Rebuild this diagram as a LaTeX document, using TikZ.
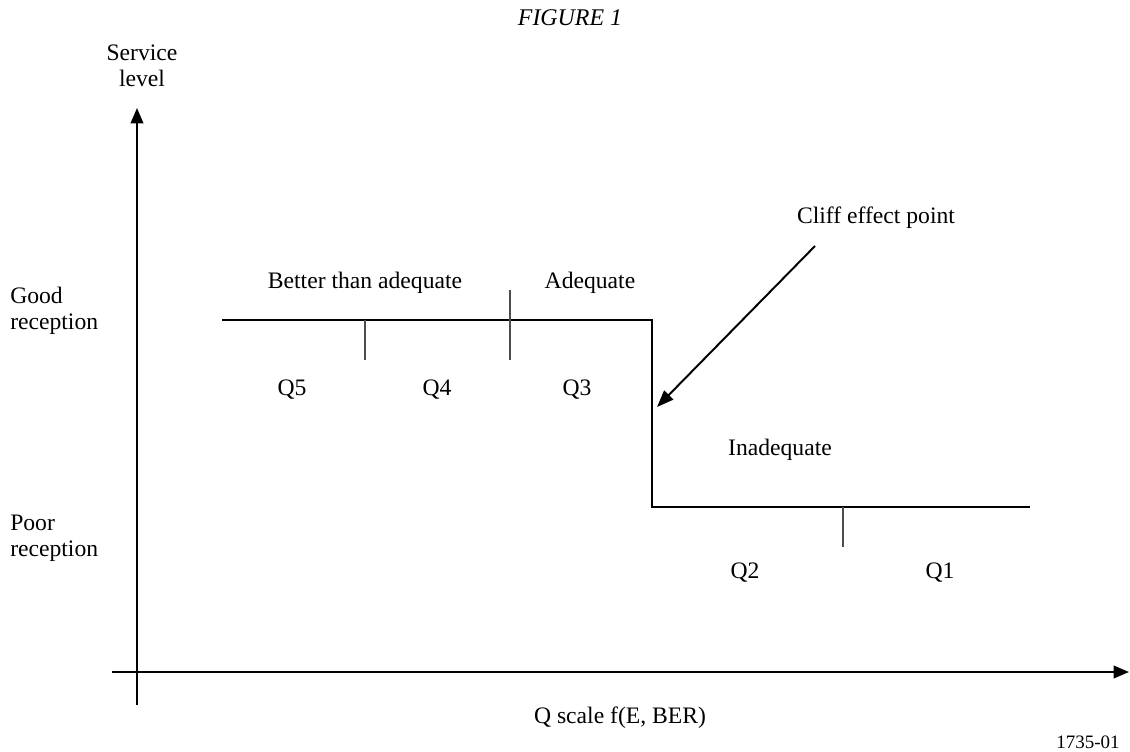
\documentclass[tikz,border=0pt]{standalone}
\usepackage{fontspec}
\setmainfont{Liberation Serif}
\usetikzlibrary{arrows.meta}

\tikzset{
  axis/.style={line width=1.4pt, -{Triangle[length=11pt,width=9pt]}},
  level/.style={line width=2pt},
  qtick/.style={line width=0.8pt, black!70},
  lbl/.style={inner sep=0pt, font=\fontsize{16.8}{18.5}\selectfont},
}

\begin{document}
\begin{tikzpicture}[x=0.025cm, y=-0.025cm]
  \useasboundingbox (0,0) rectangle (1130,751);

  % axes
  \coordinate (yfoot) at (137,705);
  \coordinate (ytip) at (137,108);
  \coordinate (xfoot) at (112,672);
  \coordinate (xtip) at (1129,672);
  \draw[axis] (yfoot) -- (ytip);
  \draw[axis] (xfoot) -- (xtip);

  % service level: good, then cliff down to poor
  \coordinate (good0) at (222,320);
  \coordinate (cliff) at (652,320);
  \coordinate (poor0) at (652,507);
  \coordinate (poor1) at (1030,507);
  \draw[level, line join=miter] (good0) -- (cliff) -- (poor0) -- (poor1);

  % Q band ticks
  \draw[qtick] (365,320) -- (365,360);
  \draw[qtick] (510,290) -- (510,360);
  \draw[qtick] (843,507) -- (843,547);

  % labels
  \node[inner sep=0pt, font=\fontsize{17}{20}\selectfont\itshape] (title) at (570,18) {FIGURE 1};
  \node[lbl, align=center] (ylab) at (142,66) {Service\\level};
  \node[lbl, align=left, anchor=west] (good) at (10,311) {Good\\reception};
  \node[lbl, align=left, anchor=west] (poor) at (10,538) {Poor\\reception};
  \node[lbl] (better) at (365,283) {Better than adequate};
  \node[lbl] (adeq) at (590,283) {Adequate};
  \node[lbl] (inadeq) at (780,450) {Inadequate};
  \foreach \q/\x/\y in {5/292/390, 4/437/390, 3/577/390, 2/745/573, 1/940/573}
    \node[lbl] (q\q) at (\x,\y) {Q\q};
  \node[lbl] (cliffpt) at (876,218) {Cliff effect point};
  \node[lbl] (xlab) at (620,718) {Q scale f(E, BER)};
  \node[inner sep=0pt, font=\fontsize{13.5}{16}\selectfont] (figno) at (1088,742) {1735-01};

  % pointer to the cliff
  \coordinate (ptrtail) at (815,246);
  \coordinate (ptrhead) at (657,407);
  \draw[line width=1.4pt, -{Triangle[length=12pt,width=9pt]}] (ptrtail) -- (ptrhead);
\end{tikzpicture}
\end{document}
